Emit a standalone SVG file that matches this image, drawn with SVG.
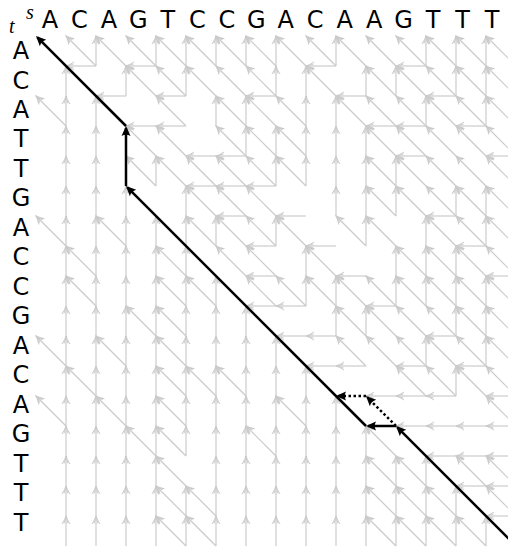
<svg xmlns="http://www.w3.org/2000/svg" width="508" height="549" viewBox="0 0 508 549">
<style>
.g path{fill:none;stroke:#cbcbcb;stroke-width:1.2;marker-end:url(#ga)}
.b path{fill:none;stroke:#000;stroke-width:2.5;marker-end:url(#ba)}
.b path.dot{stroke-dasharray:2.5 2.5}
.lab text{font-family:"DejaVu Sans",sans-serif;font-size:24px;fill:#000;text-anchor:middle}
.it{font-family:"Liberation Serif",serif;font-style:italic;font-size:20px;fill:#000}
</style>
<defs>
<marker id="ga" markerUnits="userSpaceOnUse" orient="auto" overflow="visible" markerWidth="9" markerHeight="9" refX="0" refY="0"><path d="M-8-4Q-3.5-1 0 0Q-3.5 1-8 4M-7.5-2Q-3-0.5 0 0Q-3 0.5-7.5 2" fill="none" stroke="#cbcbcb" stroke-width="1"/></marker>
<marker id="ba" markerUnits="userSpaceOnUse" orient="auto" overflow="visible" markerWidth="12" markerHeight="10" refX="-2" refY="0"><path d="M0 0L-10-4.5Q-7.5 0-10 4.5Z" fill="#000"/></marker>
</defs>
<g id="corner"><text class="it" x="9" y="33">t</text><text class="it" x="26" y="19">s</text></g>
<g id="s-labels" class="lab">
<text x="50" y="28">A</text><text x="79.5" y="28">C</text><text x="108.9" y="28">A</text><text x="138.4" y="28">G</text><text x="167.9" y="28">T</text><text x="197.4" y="28">C</text><text x="226.8" y="28">C</text><text x="256.3" y="28">G</text><text x="285.8" y="28">A</text><text x="315.2" y="28">C</text><text x="344.7" y="28">A</text><text x="374.2" y="28">A</text><text x="403.6" y="28">G</text><text x="433.1" y="28">T</text><text x="462.6" y="28">T</text><text x="492.1" y="28">T</text>
</g>
<g id="t-labels" class="lab">
<text x="21" y="59">A</text><text x="21" y="88.5">C</text><text x="21" y="118">A</text><text x="21" y="147.4">T</text><text x="21" y="176.9">T</text><text x="21" y="206.4">G</text><text x="21" y="235.9">A</text><text x="21" y="265.4">C</text><text x="21" y="294.8">C</text><text x="21" y="324.3">G</text><text x="21" y="353.8">A</text><text x="21" y="383.3">C</text><text x="21" y="412.8">A</text><text x="21" y="442.2">G</text><text x="21" y="471.7">T</text><text x="21" y="501.2">T</text><text x="21" y="530.7">T</text>
</g>
<g id="connectors" class="g">
<path d="M96 66l-30-30"/><path d="M96 66v-30"/><path d="M96 66h-30"/>
<path d="M126 66l-30-30"/>
<path d="M156 66l-30-30"/><path d="M156 66v-30"/><path d="M156 66h-30"/>
<path d="M186 66l-30-30"/><path d="M186 66v-30"/>
<path d="M216 66l-30-30"/><path d="M216 66v-30"/>
<path d="M246 66l-30-30"/><path d="M246 66v-30"/>
<path d="M276 66l-30-30"/><path d="M276 66v-30"/>
<path d="M306 66l-30-30"/>
<path d="M336 66l-30-30"/><path d="M336 66v-30"/><path d="M336 66h-30"/>
<path d="M366 66l-30-30"/>
<path d="M396 66l-30-30"/>
<path d="M426 66l-30-30"/><path d="M426 66v-30"/><path d="M426 66h-30"/>
<path d="M456 66l-30-30"/><path d="M456 66v-30"/>
<path d="M486 66l-30-30"/><path d="M486 66v-30"/>
<path d="M516 66l-30-30"/><path d="M516 66v-30"/>

<path d="M66 96v-30"/>
<path d="M126 96v-30"/><path d="M126 96h-30"/>
<path d="M156 96l-30-30"/>
<path d="M186 96l-30-30"/><path d="M186 96v-30"/><path d="M186 96h-30"/>
<path d="M216 96l-30-30"/>
<path d="M246 96l-30-30"/>
<path d="M276 96l-30-30"/><path d="M276 96v-30"/><path d="M276 96h-30"/>
<path d="M306 96v-30"/>
<path d="M336 96l-30-30"/>
<path d="M366 96v-30"/><path d="M366 96h-30"/>
<path d="M396 96l-30-30"/><path d="M396 96v-30"/>
<path d="M426 96l-30-30"/>
<path d="M456 96l-30-30"/><path d="M456 96v-30"/><path d="M456 96h-30"/>
<path d="M486 96l-30-30"/><path d="M486 96v-30"/>
<path d="M516 96l-30-30"/><path d="M516 96v-30"/>

<path d="M66 126l-30-30"/><path d="M66 126v-30"/>
<path d="M96 126v-30"/>
<path d="M156 126h-30"/>
<path d="M186 126l-30-30"/><path d="M186 126h-30"/>
<path d="M216 126v-30"/>
<path d="M246 126l-30-30"/><path d="M246 126v-30"/>
<path d="M276 126l-30-30"/>
<path d="M306 126l-30-30"/><path d="M306 126v-30"/>
<path d="M336 126v-30"/>
<path d="M366 126l-30-30"/>
<path d="M396 126l-30-30"/><path d="M396 126h-30"/>
<path d="M426 126l-30-30"/><path d="M426 126v-30"/><path d="M426 126h-30"/>
<path d="M456 126l-30-30"/>
<path d="M486 126l-30-30"/><path d="M486 126v-30"/><path d="M486 126h-30"/>
<path d="M516 126l-30-30"/><path d="M516 126v-30"/>

<path d="M66 156v-30"/>
<path d="M96 156v-30"/>
<path d="M156 156l-30-30"/>
<path d="M186 156l-30-30"/>
<path d="M216 156h-30"/>
<path d="M246 156l-30-30"/><path d="M246 156v-30"/><path d="M246 156h-30"/>
<path d="M276 156l-30-30"/><path d="M276 156v-30"/>
<path d="M306 156l-30-30"/><path d="M306 156v-30"/>
<path d="M336 156v-30"/>
<path d="M366 156v-30"/>
<path d="M396 156l-30-30"/>
<path d="M426 156l-30-30"/><path d="M426 156h-30"/>
<path d="M456 156l-30-30"/>
<path d="M486 156l-30-30"/>
<path d="M516 156l-30-30"/><path d="M516 156h-30"/>

<path d="M66 186v-30"/>
<path d="M96 186v-30"/>
<path d="M156 186l-30-30"/><path d="M156 186v-30"/>
<path d="M186 186l-30-30"/>
<path d="M216 186l-30-30"/><path d="M216 186h-30"/>
<path d="M246 186l-30-30"/><path d="M246 186h-30"/>
<path d="M276 186l-30-30"/><path d="M276 186v-30"/><path d="M276 186h-30"/>
<path d="M306 186l-30-30"/><path d="M306 186v-30"/>
<path d="M336 186v-30"/>
<path d="M366 186v-30"/>
<path d="M396 186l-30-30"/><path d="M396 186v-30"/>
<path d="M426 186l-30-30"/>
<path d="M456 186l-30-30"/>
<path d="M486 186l-30-30"/>
<path d="M516 186l-30-30"/>

<path d="M66 216v-30"/>
<path d="M96 216v-30"/>
<path d="M126 216v-30"/>
<path d="M186 216v-30"/>
<path d="M216 216l-30-30"/>
<path d="M246 216l-30-30"/><path d="M246 216h-30"/>
<path d="M276 216l-30-30"/>
<path d="M306 216h-30"/>
<path d="M336 216v-30"/>
<path d="M366 216v-30"/>
<path d="M396 216l-30-30"/><path d="M396 216v-30"/>
<path d="M426 216l-30-30"/>
<path d="M456 216l-30-30"/><path d="M456 216v-30"/><path d="M456 216h-30"/>
<path d="M486 216l-30-30"/><path d="M486 216v-30"/>
<path d="M516 216l-30-30"/><path d="M516 216v-30"/>

<path d="M66 246l-30-30"/><path d="M66 246v-30"/>
<path d="M96 246v-30"/>
<path d="M126 246l-30-30"/><path d="M126 246v-30"/>
<path d="M156 246v-30"/>
<path d="M186 246v-30"/>
<path d="M216 246l-30-30"/><path d="M216 246v-30"/>
<path d="M246 246l-30-30"/>
<path d="M276 246l-30-30"/><path d="M276 246v-30"/><path d="M276 246h-30"/>
<path d="M306 246l-30-30"/>
<path d="M336 246h-30"/>
<path d="M366 246l-30-30"/><path d="M366 246v-30"/>
<path d="M396 246l-30-30"/>
<path d="M426 246v-30"/>
<path d="M456 246l-30-30"/>
<path d="M486 246l-30-30"/><path d="M486 246v-30"/><path d="M486 246h-30"/>
<path d="M516 246l-30-30"/><path d="M516 246v-30"/>

<path d="M66 276v-30"/>
<path d="M96 276l-30-30"/><path d="M96 276v-30"/>
<path d="M126 276v-30"/>
<path d="M156 276v-30"/>
<path d="M186 276l-30-30"/><path d="M186 276v-30"/>
<path d="M246 276l-30-30"/>
<path d="M276 276l-30-30"/><path d="M276 276h-30"/>
<path d="M306 276v-30"/>
<path d="M336 276l-30-30"/>
<path d="M366 276h-30"/>
<path d="M396 276v-30"/>
<path d="M426 276l-30-30"/><path d="M426 276v-30"/>
<path d="M456 276l-30-30"/><path d="M456 276v-30"/>
<path d="M486 276l-30-30"/>
<path d="M516 276l-30-30"/><path d="M516 276v-30"/><path d="M516 276h-30"/>

<path d="M66 306v-30"/>
<path d="M96 306l-30-30"/><path d="M96 306v-30"/>
<path d="M126 306v-30"/>
<path d="M156 306v-30"/>
<path d="M186 306l-30-30"/><path d="M186 306v-30"/>
<path d="M216 306l-30-30"/><path d="M216 306v-30"/>
<path d="M276 306l-30-30"/><path d="M276 306h-30"/>
<path d="M306 306l-30-30"/><path d="M306 306v-30"/><path d="M306 306h-30"/>
<path d="M336 306l-30-30"/><path d="M336 306v-30"/>
<path d="M366 306l-30-30"/>
<path d="M396 306l-30-30"/><path d="M396 306v-30"/><path d="M396 306h-30"/>
<path d="M426 306l-30-30"/><path d="M426 306v-30"/>
<path d="M456 306l-30-30"/><path d="M456 306v-30"/>
<path d="M486 306l-30-30"/><path d="M486 306v-30"/>
<path d="M516 306l-30-30"/>

<path d="M66 336v-30"/>
<path d="M96 336v-30"/>
<path d="M126 336v-30"/>
<path d="M156 336l-30-30"/><path d="M156 336v-30"/>
<path d="M186 336l-30-30"/><path d="M186 336v-30"/>
<path d="M216 336v-30"/>
<path d="M246 336v-30"/>
<path d="M306 336h-30"/>
<path d="M336 336v-30"/><path d="M336 336h-30"/>
<path d="M366 336l-30-30"/><path d="M366 336v-30"/>
<path d="M396 336l-30-30"/>
<path d="M426 336l-30-30"/>
<path d="M456 336l-30-30"/><path d="M456 336v-30"/><path d="M456 336h-30"/>
<path d="M486 336l-30-30"/><path d="M486 336v-30"/>
<path d="M516 336l-30-30"/><path d="M516 336v-30"/>

<path d="M66 366l-30-30"/><path d="M66 366v-30"/>
<path d="M96 366v-30"/>
<path d="M126 366l-30-30"/><path d="M126 366v-30"/>
<path d="M156 366v-30"/>
<path d="M186 366l-30-30"/><path d="M186 366v-30"/>
<path d="M216 366v-30"/>
<path d="M246 366v-30"/>
<path d="M276 366v-30"/>
<path d="M336 366h-30"/>
<path d="M366 366l-30-30"/><path d="M366 366h-30"/>
<path d="M396 366l-30-30"/>
<path d="M426 366l-30-30"/><path d="M426 366v-30"/><path d="M426 366h-30"/>
<path d="M456 366l-30-30"/>
<path d="M486 366l-30-30"/><path d="M486 366v-30"/><path d="M486 366h-30"/>
<path d="M516 366l-30-30"/><path d="M516 366v-30"/>

<path d="M66 396v-30"/>
<path d="M96 396l-30-30"/><path d="M96 396v-30"/>
<path d="M126 396v-30"/>
<path d="M156 396v-30"/>
<path d="M186 396l-30-30"/><path d="M186 396v-30"/>
<path d="M216 396l-30-30"/><path d="M216 396v-30"/>
<path d="M246 396l-30-30"/><path d="M246 396v-30"/>
<path d="M276 396v-30"/>
<path d="M306 396v-30"/>
<path d="M396 396h-30"/>
<path d="M426 396l-30-30"/><path d="M426 396h-30"/>
<path d="M456 396l-30-30"/><path d="M456 396v-30"/><path d="M456 396h-30"/>
<path d="M486 396l-30-30"/>
<path d="M516 396l-30-30"/><path d="M516 396v-30"/><path d="M516 396h-30"/>

<path d="M66 426l-30-30"/><path d="M66 426v-30"/>
<path d="M96 426v-30"/>
<path d="M126 426l-30-30"/><path d="M126 426v-30"/>
<path d="M156 426v-30"/>
<path d="M186 426l-30-30"/><path d="M186 426v-30"/>
<path d="M216 426v-30"/>
<path d="M246 426v-30"/>
<path d="M276 426v-30"/>
<path d="M306 426l-30-30"/><path d="M306 426v-30"/>
<path d="M336 426v-30"/>
<path d="M426 426h-30"/>
<path d="M456 426h-30"/>
<path d="M486 426h-30"/>
<path d="M516 426l-30-30"/><path d="M516 426h-30"/>

<path d="M66 456v-30"/>
<path d="M96 456v-30"/>
<path d="M126 456v-30"/>
<path d="M156 456l-30-30"/><path d="M156 456v-30"/>
<path d="M186 456l-30-30"/><path d="M186 456v-30"/>
<path d="M216 456v-30"/>
<path d="M246 456v-30"/>
<path d="M276 456l-30-30"/><path d="M276 456v-30"/>
<path d="M306 456v-30"/>
<path d="M336 456v-30"/>
<path d="M366 456v-30"/>
<path d="M396 456l-30-30"/>
<path d="M456 456h-30"/>
<path d="M486 456h-30"/>
<path d="M516 456h-30"/>

<path d="M66 486v-30"/>
<path d="M96 486v-30"/>
<path d="M126 486v-30"/>
<path d="M156 486v-30"/>
<path d="M186 486l-30-30"/>
<path d="M216 486v-30"/>
<path d="M246 486v-30"/>
<path d="M276 486v-30"/>
<path d="M306 486v-30"/>
<path d="M336 486v-30"/>
<path d="M366 486v-30"/>
<path d="M396 486l-30-30"/><path d="M396 486v-30"/>
<path d="M426 486l-30-30"/><path d="M426 486v-30"/>
<path d="M486 486l-30-30"/><path d="M486 486h-30"/>
<path d="M516 486l-30-30"/><path d="M516 486h-30"/>

<path d="M66 516v-30"/>
<path d="M96 516v-30"/>
<path d="M126 516v-30"/>
<path d="M156 516v-30"/>
<path d="M186 516l-30-30"/><path d="M186 516v-30"/>
<path d="M216 516l-30-30"/><path d="M216 516v-30"/>
<path d="M246 516v-30"/>
<path d="M276 516v-30"/>
<path d="M306 516v-30"/>
<path d="M336 516v-30"/>
<path d="M366 516v-30"/>
<path d="M396 516l-30-30"/><path d="M396 516v-30"/>
<path d="M426 516l-30-30"/><path d="M426 516v-30"/>
<path d="M456 516l-30-30"/><path d="M456 516v-30"/>
<path d="M516 516l-30-30"/><path d="M516 516h-30"/>

<path d="M66 546v-30"/>
<path d="M96 546v-30"/>
<path d="M126 546v-30"/>
<path d="M156 546v-30"/>
<path d="M186 546l-30-30"/><path d="M186 546v-30"/>
<path d="M216 546l-30-30"/><path d="M216 546v-30"/>
<path d="M246 546v-30"/>
<path d="M276 546v-30"/>
<path d="M306 546v-30"/>
<path d="M336 546v-30"/>
<path d="M366 546v-30"/>
<path d="M396 546l-30-30"/><path d="M396 546v-30"/>
<path d="M426 546l-30-30"/><path d="M426 546v-30"/>
<path d="M456 546l-30-30"/><path d="M456 546v-30"/>
<path d="M486 546l-30-30"/><path d="M486 546v-30"/>
</g>
<g id="traceback" class="b">
<path d="M126 126L37.4 37.4"/>
<path d="M126 186V128"/>
<path d="M366 426L127.4 187.4"/>
<path d="M396 426H368"/>
<path d="M516 546L397.4 427.4"/>
<path class="dot" d="M396 426L367.4 397.4"/>
<path class="dot" d="M366 396H338"/>
</g>
</svg>
